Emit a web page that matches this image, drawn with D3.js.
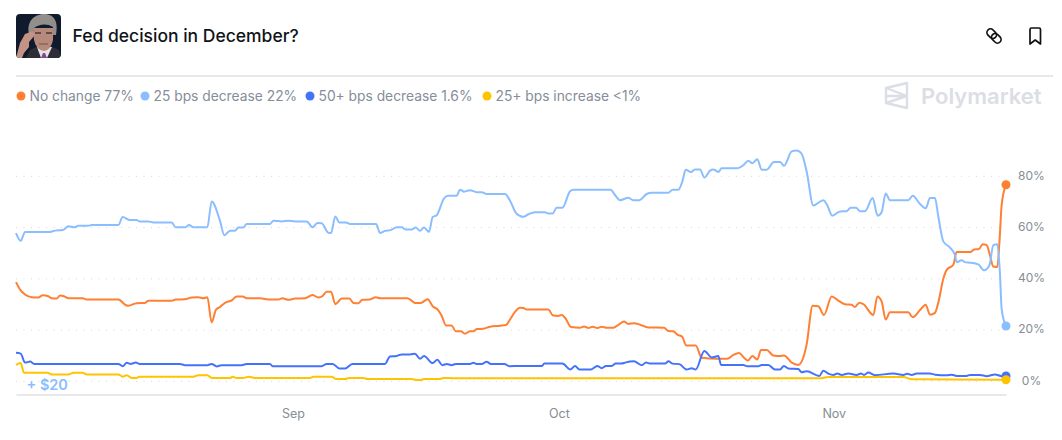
<!doctype html>
<html>
<head>
  <meta charset="utf8">
  <title>Fed decision in December?</title>
  <style>
    body {
      margin: 0;
      padding: 0;
      background: #fff;
    }
    svg {
      display: block;
      font-family: Inter, "Noto Sans", sans-serif;
    }
  </style>
</head>
<body>
  <svg></svg>

  <script src="https://d3js.org/d3.v7.min.js"></script>
  <script>
    // every series is a list of [days since Aug 1, percent]
    const noChange = [[-0.23,38.7],[0.23,35.8],[0.79,33.9],[1.54,32.8],[2.29,32.7],[2.78,33.6],[3.42,33.2],[3.8,32.4],[4.36,32.3],[4.74,33.5],[5.19,33.2],[5.68,32.4],[7.29,32.4],[7.74,31.9],[11.32,31.9],[12.18,29.7],[12.44,29.5],[13.38,30.5],[14.32,30.6],[14.7,31.4],[17.33,31.4],[17.78,31.9],[18.83,32],[19.59,32.7],[20.34,32.8],[20.9,32.4],[21.35,32.8],[21.84,23],[22.33,28],[22.78,29],[23.35,30.6],[24.1,31.6],[24.66,33.1],[25.34,33.1],[25.79,32.4],[27.29,32.4],[28.42,31.9],[29.36,31.9],[29.81,32.4],[30.49,31.8],[31.24,32.3],[32.37,32.4],[33.2,33.7],[33.88,32.7],[34.32,33.2],[34.81,34.9],[35.3,34.9],[35.79,30.1],[36.51,32.3],[37.38,32.3],[37.83,30.6],[38.4,30.5],[38.84,31.8],[39.64,31.9],[40.36,32.8],[40.83,32.4],[43.95,32.4],[44.77,30.6],[45.41,30.6],[46.2,32],[46.77,29.3],[47.33,28],[47.78,25.6],[48.27,21.8],[48.91,21.8],[49.36,19.5],[49.96,19.5],[50.41,18.6],[50.98,19.5],[51.35,19.5],[51.73,20.4],[52.48,20.5],[53.23,21.3],[54.36,21.7],[55.04,22],[55.49,24.1],[56.05,27.1],[56.62,28.7],[57,28.6],[57.37,28],[59.81,28],[60.3,25.8],[60.94,25.5],[61.32,25.9],[61.7,24.8],[62.37,21.2],[63.38,20.9],[63.83,21.4],[64.32,20.8],[64.81,21.3],[65.34,20.8],[65.83,21.3],[66.39,20.9],[67.14,20.9],[67.71,22],[68.35,23.3],[68.83,22.4],[69.47,22.7],[70.15,22.1],[71.09,21],[72.86,20.9],[73.35,19.6],[73.91,19.5],[74.36,18.2],[74.92,17.4],[75.34,14],[76.43,14],[77.11,9.2],[78.8,8.8],[80,8.8],[80.68,10.3],[81.32,11],[81.88,9.2],[82.33,8.1],[82.82,9.9],[83.38,8.5],[83.8,12.2],[84.44,12.2],[85.19,10.1],[85.94,9.9],[86.39,10.1],[87.26,7.3],[88,6.4],[88.57,9.3],[88.95,14.5],[89.62,29.5],[90.26,29.3],[90.9,25.9],[91.77,33.1],[92.52,31.5],[93.27,30.1],[94.02,29.9],[94.39,29],[94.89,30.7],[95.34,30.1],[96.47,25.9],[96.92,33.1],[97.41,31.1],[97.86,24.1],[98.35,26.9],[100.41,26.9],[100.9,25],[101.73,27.8],[102.37,29.9],[102.86,26],[103.42,26.7],[103.8,30.8],[104.36,40],[104.74,43.5],[105.49,45.5],[105.86,50.5],[106.43,50.5],[107.44,50.5],[107.82,51.4],[108.38,51.6],[108.8,53.5],[109.25,53.1],[109.62,49.2],[110,44.8],[110.45,44.6],[110.68,53.7],[110.94,68.8],[111.43,76.7]]

    const decrease25 = [[-0.23,57.8],[0.3,54.8],[0.79,58.3],[3.61,58.3],[4.17,58.8],[5.04,59],[5.68,60.5],[6.32,60.1],[6.8,60.7],[7.93,60.7],[8.31,61],[11.32,61],[11.8,64.1],[12.63,62.9],[13.38,62.9],[13.68,62.4],[14.7,62.4],[15.26,62],[17.33,62],[17.78,60.1],[18.83,60.1],[19.29,61],[19.77,60.1],[21.35,60.1],[21.84,70.2],[22.78,62.6],[23.27,57],[23.91,58.8],[24.47,58.8],[24.85,60],[25.41,60],[25.79,61.4],[28.42,61.4],[28.8,62.7],[29.74,62.4],[30.49,62.7],[31.24,62.4],[32.56,62.4],[33.23,60.1],[33.76,61.8],[34.25,61.7],[35,58],[35.3,57.9],[35.79,64.3],[36.24,62],[36.99,62],[37.44,61.4],[40.38,61.4],[40.83,57.9],[41.39,58.7],[42.03,59],[42.71,60.1],[43.27,60.1],[43.76,59.2],[44.4,59.2],[44.85,60],[45.34,58.8],[45.79,60],[46.35,58.3],[46.77,64.1],[47.22,64.8],[48.05,71.4],[48.53,72.4],[49.47,72.4],[49.85,74.8],[50.3,74],[50.98,74.6],[51.73,73.8],[52.29,73.8],[52.86,73.1],[54.92,73.1],[55.49,70.5],[56.17,65.6],[56.62,64.5],[57,64.2],[57.56,65.2],[58.32,66],[59.44,66],[59.82,65.5],[60.3,65.5],[60.75,67.7],[61.39,67.7],[62.26,74.2],[62.63,74.8],[66.84,74.8],[67.33,72.7],[67.89,70.7],[68.83,71.6],[69.39,70.7],[70.08,70.7],[70.9,73.1],[71.47,73.6],[73.35,73.6],[73.83,74.8],[74.47,74.8],[74.92,77.9],[75.3,82.6],[75.9,81.6],[76.35,82.7],[76.92,82.7],[77.41,79.5],[78.05,82.2],[78.42,82.7],[78.98,81.7],[79.36,83.1],[81.05,83.1],[81.8,84.3],[82.37,86.1],[82.82,85.1],[83.38,86.7],[83.87,82.6],[84.44,82.6],[85.26,85.6],[85.94,85.6],[86.39,84.1],[87.26,89.7],[87.82,90.1],[88.38,88.8],[88.95,81.8],[89.7,68.6],[90.83,70.7],[91.2,69.2],[91.84,64.6],[92.71,66.3],[93.46,66.4],[93.91,67.7],[94.51,67.7],[94.96,66.4],[95.53,66.4],[96.39,71.5],[96.95,64.6],[97.41,66.1],[97.86,73.3],[98.35,70.7],[100.41,70.7],[100.9,72.4],[101.73,69.2],[102.37,67.5],[102.86,71.5],[103.42,71.5],[103.8,64.2],[104.36,54.6],[105.11,52.2],[105.68,49.2],[105.86,46.5],[106.43,47.2],[106.8,46.5],[107.37,46.3],[108.31,45.6],[108.95,43.3],[109.55,45.2],[110,53.1],[110.45,53.5],[110.75,42],[110.94,28.2],[111.43,21.6]]

    const decrease50 = [[-0.23,11.1],[0.3,10.8],[0.79,7.3],[1.35,7.7],[1.84,6.8],[11.32,6.8],[11.8,5.9],[12.26,7.2],[12.71,6.8],[13.27,7.3],[13.68,6.8],[18.27,6.8],[18.83,6.3],[21.35,6.3],[21.84,6.8],[22.41,5.8],[22.97,6.3],[25.23,6.3],[25.79,6.8],[28.42,6.8],[28.71,5.9],[34.25,5.9],[34.81,6.8],[35.49,6.8],[36.24,5],[36.88,5],[37.71,6.8],[41.39,6.8],[41.95,9.7],[42.71,9.9],[43.27,10.5],[44.21,10.5],[44.77,10.8],[45.34,8.8],[45.79,9.9],[46.77,7.1],[47.29,8.4],[47.86,6.3],[48.35,6.8],[48.91,6.3],[49.36,6.8],[50.98,6.8],[51.35,7.2],[51.73,6.8],[52.29,6.8],[52.86,7.6],[53.32,6.8],[54.85,6.8],[55.41,5.9],[56.62,6],[59.06,6],[59.36,6.9],[61.39,6.9],[62.32,4.6],[62.82,6],[63.31,4.6],[64.59,4.6],[65.34,6],[65.83,5.1],[66.32,6],[66.95,6],[67.41,6.9],[68.08,6.9],[68.46,7.3],[69.47,7.8],[70.34,6.3],[70.83,7.3],[71.35,6.9],[72.97,6.9],[73.35,7.8],[73.83,6.9],[74.59,6.7],[75.41,4.6],[75.98,5.1],[76.43,4.6],[77.41,11.8],[78.24,9.3],[78.98,9.9],[79.29,6.4],[81.8,6.4],[82.25,5.9],[83.5,5.9],[83.87,6.4],[84.62,6.4],[85.38,4.6],[85.94,4.6],[86.39,6],[86.88,5],[88,4.8],[88.38,3.5],[88.95,3.9],[90.38,2.1],[90.83,4.1],[91.39,3],[91.95,2.5],[92.41,3],[92.89,2.5],[93.65,3],[94.58,2.5],[95.08,3],[95.41,2.5],[95.9,3.4],[96.65,2.4],[98.72,3],[99.85,2.5],[100.3,2.9],[100.8,2.5],[101.35,3],[102.86,3],[103.42,2.6],[104.74,2.4],[105.3,2.6],[105.86,2.1],[106.98,2.1],[107.37,2.5],[108.5,2.5],[109.25,2],[110.19,2.7],[110.94,2],[111.43,2.1]]

    const increase25 = [[-0.23,6.4],[0.3,7.1],[0.68,3.3],[3.35,3.3],[3.8,2.7],[5.68,2.7],[6.24,3.3],[7.29,3.3],[7.74,2.7],[11.32,2.7],[11.8,1.8],[12.26,2.4],[12.8,1.3],[13.38,1.3],[13.68,1.8],[19.77,1.8],[20.34,2.4],[21.35,2.4],[21.84,1.3],[23.91,1.3],[24.2,1.8],[24.66,1.3],[25.41,1.3],[25.98,1.8],[26.73,1.3],[32.93,1.3],[33.3,1.8],[35.37,1.8],[35.86,0.9],[36.88,0.9],[37.36,1.3],[38.95,1.3],[39.4,0.9],[44.4,0.9],[44.96,0.5],[45.45,0.5],[45.79,0.9],[47.6,0.9],[47.97,1.3],[48.53,1.3],[48.91,1.2],[90.64,1.2],[91.39,1.7],[99.85,1.7],[100.8,0.8],[111.43,0.6]]

    const seriesNames = ['No change 77%', '25 bps decrease 22%', '50+ bps decrease 1.6%', '25+ bps increase <1%']
    const seriesColors = ['#ff7f33', '#8abeff', '#4572fa', '#ffc400']
    const seriesValues = [noChange, decrease25, decrease50, increase25]
    const percentTicks = [0, 20, 40, 60, 80]
    const monthTicks = [31, 61, 92]

    const width = 1062
    const height = 440

    const startDay = Date.UTC(2024, 7, 1)
    const toDate = d => new Date(startDay + d * 864e5)

    const svg = d3.select('svg')
      .attr('width', width)
      .attr('height', height)

    const x = d3.scaleUtc()
      .domain([toDate(-0.23), toDate(111.43)])
      .range([16, 1006])

    const y = d3.scaleLinear()
      .domain([0, 80])
      .range([381.3, 176.3])

    // header
    const clip = svg.append('clipPath').attr('id', 'photo-clip')
    clip.append('rect').attr('x', 16).attr('y', 14).attr('width', 45).attr('height', 44).attr('rx', 4)
    const photo = svg.append('g').attr('clip-path', 'url(#photo-clip)')
    photo.append('rect').attr('x', 16).attr('y', 14).attr('width', 45).attr('height', 44).attr('fill', '#101a2c')
    photo.append('path').attr('d', 'M26,58 L30,50 L38,46 L50,46 L59,50 L61,58 Z').attr('fill', '#2e2e36')
    photo.append('path').attr('d', 'M37,47 L52,47 L47,58 L41,58 Z').attr('fill', '#e8e2e2')
    photo.append('path').attr('d', 'M41,58 L43,53 L45,53 L47,58 Z').attr('fill', '#7d4a93')
    photo.append('path').attr('d', 'M33,28 L53,28 L53,40 Q51,50 44,51 Q36,50 34,40 Z').attr('fill', '#b58a7c')
    photo.append('path').attr('d', 'M29,34 C26,20 36,14 44,14 C53,14 59,20 56,35 L53,35 L53,27 C47,23 39,24 34,28 L33,35 Z').attr('fill', '#918e8b')
    photo.append('path').attr('d', 'M35,33 L41,33 M46,33 L52,33').attr('stroke', '#4a3832').attr('stroke-width', 1.4)
    photo.append('path').attr('d', 'M39,44 L48,44').attr('stroke', '#7a5248').attr('stroke-width', 1)
    photo.append('path').attr('d', 'M16,58 L20,43 L25,34 L33,31 L35,35 L29,42 L29,47 L24,53 L22,58 Z').attr('fill', '#c39486')

    svg.append('text')
      .attr('x', 72.5)
      .attr('y', 41.5)
      .attr('font-size', 17.5)
      .attr('font-weight', 500)
      .attr('fill', '#0f1419')
      .text('Fed decision in December?')

    // link icon
    const link = svg.append('g')
      .attr('transform', 'translate(994,36) rotate(45)')
      .attr('fill', 'none')
      .attr('stroke', '#111')
      .attr('stroke-width', 1.7)
    link.append('rect').attr('x', -8.5).attr('y', -3.6).attr('width', 10.5).attr('height', 7.2).attr('rx', 3.6)
    link.append('rect').attr('x', -2).attr('y', -3.6).attr('width', 10.5).attr('height', 7.2).attr('rx', 3.6)

    // bookmark icon
    svg.append('path')
      .attr('d', 'M1030,29.5 Q1030,28 1031.5,28 L1039,28 Q1040.5,28 1040.5,29.5 L1040.5,44 L1035.2,40 L1030,44 Z')
      .attr('fill', 'none')
      .attr('stroke', '#111')
      .attr('stroke-width', 1.7)
      .attr('stroke-linejoin', 'round')

    svg.append('line')
      .attr('x1', 16)
      .attr('x2', 1053)
      .attr('y1', 76)
      .attr('y2', 76)
      .attr('stroke', '#e8e8e8')
      .attr('stroke-width', 2)

    // legend
    const legendDotX = [21, 145, 310, 487]
    const legend = svg.append('g')
      .selectAll('g')
      .data(seriesNames)
      .join('g')
      .attr('transform', (d, i) => `translate(${legendDotX[i]},96)`)

    legend.append('circle')
      .attr('r', 4.5)
      .attr('fill', (d, i) => seriesColors[i])

    legend.append('text')
      .attr('x', 8.5)
      .attr('y', 5)
      .attr('font-size', 13.8)
      .attr('fill', '#858d99')
      .text(d => d)

    // watermark
    svg.append('path')
      .attr('d', 'M886,88 L907,83 L907,108 L886,103 Z M886,88 L907,96 L886,103 M907,96 L886,96')
      .attr('fill', 'none')
      .attr('stroke', '#dcdee5')
      .attr('stroke-width', 2.4)
      .attr('stroke-linejoin', 'round')

    svg.append('text')
      .attr('x', 921)
      .attr('y', 104)
      .attr('font-size', 22)
      .attr('font-weight', 600)
      .attr('fill', '#dcdee5')
      .text('Polymarket')

    // grid
    svg.append('g')
      .selectAll('line')
      .data(percentTicks)
      .join('line')
      .attr('x1', 16)
      .attr('x2', 1006)
      .attr('y1', d => y(d))
      .attr('y2', d => y(d))
      .attr('stroke', '#d8d8d8')
      .attr('stroke-dasharray', '1,6.5')

    // axes
    const xAxis = svg.append('g')
      .attr('transform', 'translate(0,394.5)')
      .call(d3.axisBottom(x)
        .tickValues(monthTicks.map(toDate))
        .tickFormat(d3.utcFormat('%b'))
        .tickSize(0)
        .tickPadding(15))
    xAxis.select('.domain').attr('stroke', '#e2e2e2').attr('stroke-width', 1.5)
    xAxis.selectAll('text')
      .attr('font-family', 'Inter, "Noto Sans", sans-serif')
      .attr('font-size', 12.5)
      .attr('fill', '#858d92')

    const yAxis = svg.append('g')
      .attr('transform', 'translate(1031.5,-1)')
      .call(d3.axisRight(y)
        .tickValues(percentTicks)
        .tickFormat(d => d + '%')
        .tickSize(0)
        .tickPadding(0))
    yAxis.select('.domain').remove()
    yAxis.selectAll('text')
      .attr('text-anchor', 'middle')
      .attr('font-family', 'Inter, "Noto Sans", sans-serif')
      .attr('font-size', 12)
      .attr('fill', '#858d92')

    // lines
    const line = d3.line()
      .x(d => x(toDate(d[0])))
      .y(d => y(d[1]))
      .curve(d3.curveMonotoneX)

    svg.append('g')
      .selectAll('path')
      .data(seriesValues)
      .join('path')
      .attr('d', line)
      .attr('fill', 'none')
      .attr('stroke', (d, i) => seriesColors[i])
      .attr('stroke-width', 2)
      .attr('stroke-linejoin', 'round')

    svg.append('g')
      .selectAll('circle')
      .data(seriesValues)
      .join('circle')
      .attr('cx', d => x(toDate(d[d.length - 1][0])))
      .attr('cy', d => y(d[d.length - 1][1]))
      .attr('r', 4.5)
      .attr('fill', (d, i) => seriesColors[i])

    svg.append('text')
      .attr('x', 26.5)
      .attr('y', 390)
      .attr('font-size', 14.5)
      .attr('font-weight', 600)
      .attr('fill', '#8abeff')
      .text('+ $20')
  </script>
</body>
</html>
